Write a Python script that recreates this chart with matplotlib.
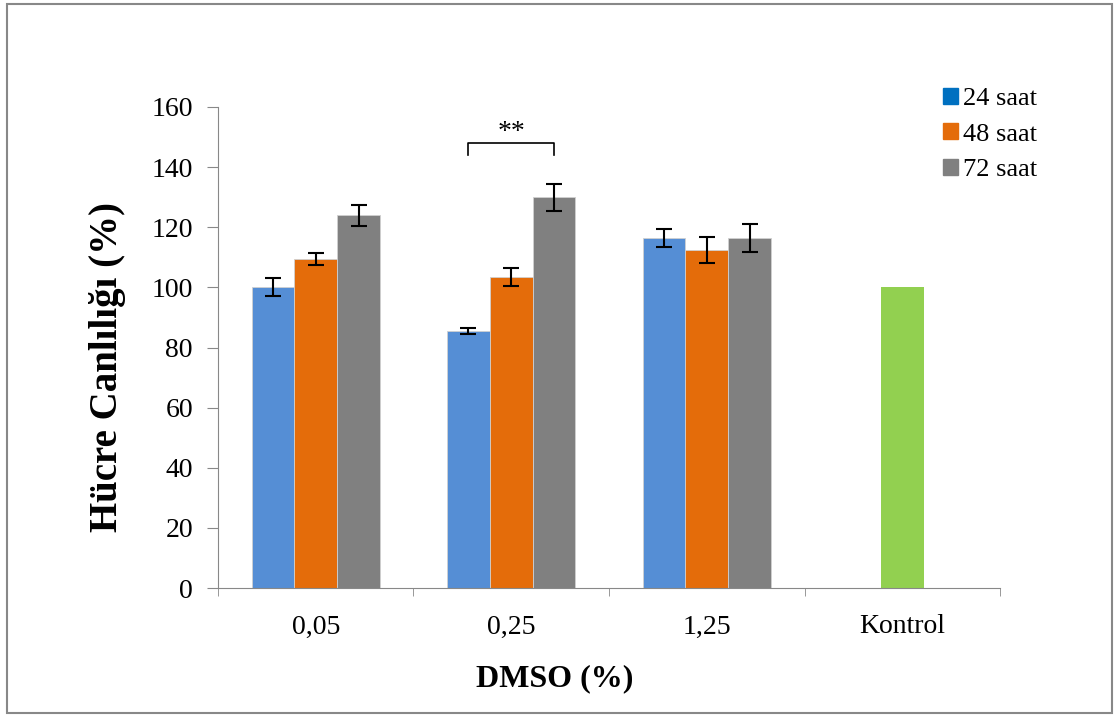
import numpy as np
import matplotlib.pyplot as plt
from matplotlib.patches import Rectangle, Patch

categories = ['0,05', '0,25', '1,25', 'Kontrol']
series_names = ['24 saat', '48 saat', '72 saat']
vals_24 = [100, 85.5, 116.5]
vals_48 = [109.5, 103.5, 112.5]
vals_72 = [124, 130, 116.5]
err_24 = [3.0, 1.0, 3.0]
err_48 = [2.0, 3.0, 4.3]
err_72 = [3.5, 4.5, 4.7]
kontrol_val = [100]
yticks = [0, 20, 40, 60, 80, 100, 120, 140, 160]

bar_colors = ['#558ED5', '#E46C0A', '#808080']
legend_colors = ['#0070C0', '#E46C0A', '#808080']
kontrol_color = '#92D050'

plt.rcParams['font.family'] = 'Liberation Serif'

fig = plt.figure(figsize=(11.19, 7.2), dpi=100)
ax = fig.add_axes([0.1948, 0.1833, 0.6989, 0.6681])

w = 0.219
x = np.arange(3)
for i, (v, e) in enumerate(zip([vals_24, vals_48, vals_72], [err_24, err_48, err_72])):
    ax.bar(x + (i - 1) * w, v, w, color=bar_colors[i], edgecolor='#d0d0d0', linewidth=0.6,
           yerr=e, error_kw=dict(ecolor='black', elinewidth=1.5, capsize=6, capthick=1.5))
ax.bar([3], kontrol_val, w, color=kontrol_color)

ax.set_xlim(-0.5, 3.5)
ax.set_ylim(0, 160)
ax.set_yticks(yticks)
ax.set_xticks(np.arange(4))
ax.set_xticklabels(categories)
ax.set_xticks(np.arange(-0.5, 4.0, 1.0), minor=True)
ax.tick_params(axis='x', which='major', length=0, pad=19, labelsize=20)
ax.tick_params(axis='x', which='minor', length=6, color='#888888')
ax.tick_params(axis='y', length=8, color='#888888', labelsize=20, pad=10)
for s in ['top', 'right']:
    ax.spines[s].set_visible(False)
for s in ['left', 'bottom']:
    ax.spines[s].set_color('#888888')

ax.set_ylabel('Hücre Canlılığı (%)', fontsize=28, fontweight='bold')
ax.yaxis.set_label_coords(-0.118, 0.46)
ax.set_xlabel('DMSO (%)', fontsize=23, fontweight='bold')
ax.xaxis.set_label_coords(0.431, -0.158)

# significance bracket
x1, x2 = 1 - w, 1 + w
ax.plot([x1, x1, x2, x2], [144, 148, 148, 144], color='black', lw=1.2)
ax.text(1.0, 147.5, '**', ha='center', va='bottom', fontsize=20)

handles = [Patch(color=c) for c in legend_colors]
ax.legend(handles, series_names, loc='upper left', bbox_to_anchor=(943 / 1119, 1 - 88 / 720),
          bbox_transform=fig.transFigure, frameon=False, borderpad=0, borderaxespad=0,
          prop={'family': 'Liberation Serif', 'size': 19},
          handlelength=0.55, handleheight=0.55, handletextpad=0.2, labelspacing=0.5)

fig.patches.append(Rectangle((0.006, 0.01), 0.988, 0.985, transform=fig.transFigure,
                             fill=False, edgecolor='#888888', linewidth=1.5))

fig.savefig('out.png', dpi=100)
